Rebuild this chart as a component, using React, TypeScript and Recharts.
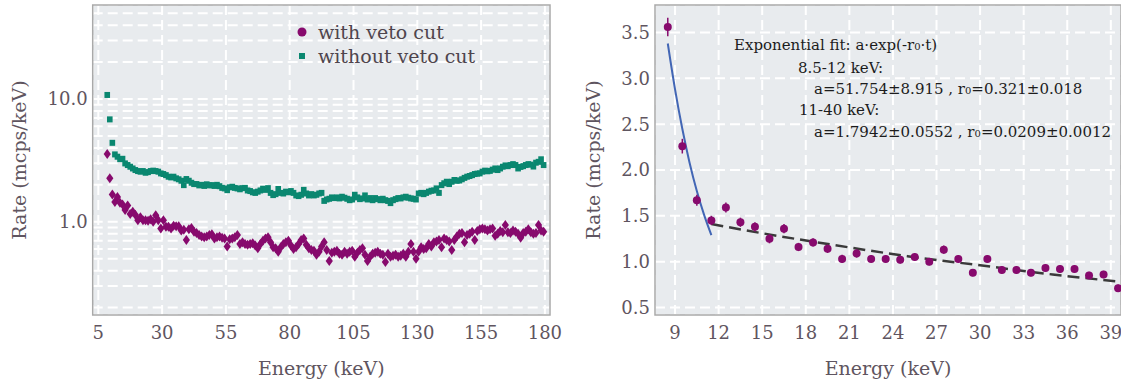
import {
  ComposedChart,
  ScatterChart,
  Scatter,
  Line,
  XAxis,
  YAxis,
  CartesianGrid,
  ErrorBar,
  ReferenceArea,
  Legend,
  Label,
} from "recharts";

const FONT = "'DejaVu Serif', serif";
const INK = "#5f5560";
const PURPLE = "#870a6d";
const TEAL = "#0a8770";
const BLUE = "#4266b5";
const DASH = "#3a3a3a";
const PANEL_BG = "#e8ebee";
const FRAME = "#a9a9a9";

// left panel: 1 keV bins, first bin centred at 8.5 keV
const BIN_START = 8.5;
const BIN_WIDTH = 1;

const withVeto = [
  // 8.5 - 39.5
  3.56, 2.26, 1.67, 1.45, 1.59, 1.43, 1.38, 1.25, 1.36, 1.16,
  1.21, 1.14, 1.03, 1.09, 1.03, 1.03, 1.02, 1.05, 1.0, 1.13,
  1.03, 0.88, 1.03, 0.91, 0.91, 0.88, 0.93, 0.92, 0.92, 0.85,
  0.86, 0.71,
  // 40.5 - 62.5
  0.87, 0.89, 0.83, 0.81, 0.78, 0.76, 0.75, 0.76, 0.78, 0.79,
  0.73, 0.75, 0.76, 0.74, 0.73, 0.63, 0.72, 0.73, 0.75, 0.78,
  0.66, 0.68, 0.66,
  // 63.5 - 122.5
  0.65, 0.66, 0.67, 0.64, 0.61, 0.66, 0.7, 0.73, 0.75, 0.68,
  0.62, 0.61, 0.57, 0.62, 0.66, 0.68, 0.7, 0.64, 0.6, 0.62,
  0.66, 0.71, 0.73, 0.65, 0.61, 0.59, 0.58, 0.54, 0.57, 0.63,
  0.68, 0.59, 0.48, 0.56, 0.57, 0.58, 0.55, 0.54, 0.57, 0.55,
  0.57, 0.58, 0.52, 0.56, 0.59, 0.61, 0.54, 0.48, 0.52, 0.55,
  0.56, 0.57, 0.55, 0.54, 0.47, 0.55, 0.52, 0.53, 0.54, 0.52,
  // 123.5 - 179.5
  0.53, 0.55, 0.52, 0.57, 0.66, 0.57, 0.5, 0.57, 0.62, 0.6,
  0.61, 0.66, 0.63, 0.68, 0.69, 0.71, 0.62, 0.73, 0.71, 0.69,
  0.59, 0.71, 0.76, 0.8, 0.81, 0.68, 0.78, 0.8, 0.83, 0.71,
  0.84, 0.87, 0.88, 0.87, 0.85, 0.87, 0.88, 0.77, 0.8, 0.84,
  0.82, 0.94, 0.82, 0.81, 0.85, 0.83, 0.8, 0.74, 0.81, 0.83,
  0.87, 0.82, 0.8, 0.81, 0.94, 0.85, 0.83,
];

const withoutVeto = [
  // 8.5 - 62.5
  10.8, 6.83, 4.4, 3.54, 3.39, 3.24, 3.26, 2.99, 2.9, 2.81,
  2.72, 2.64, 2.59, 2.56, 2.59, 2.51, 2.54, 2.59, 2.61, 2.59,
  2.56, 2.48, 2.45, 2.4, 2.33, 2.3, 2.33, 2.26, 2.22, 2.16,
  1.99, 2.23, 2.16, 2.08, 2.03, 2.03, 1.98, 2.0, 1.96, 2.02,
  1.98, 1.99, 1.96, 2.0, 1.95, 1.89, 1.87, 1.81, 1.91, 1.93,
  1.89, 1.87, 1.84, 1.88, 1.89,
  // 63.5 - 122.5
  1.8, 1.78, 1.74, 1.72, 1.76, 1.8, 1.86, 1.82, 1.88, 1.72,
  1.65, 1.68, 1.85, 1.72, 1.7, 1.76, 1.74, 1.78, 1.72, 1.64,
  1.62, 1.66, 1.82, 1.7, 1.64, 1.68, 1.64, 1.66, 1.7, 1.72,
  1.48, 1.52, 1.54, 1.58, 1.56, 1.58, 1.55, 1.6, 1.57, 1.54,
  1.5, 1.52, 1.66, 1.58, 1.53, 1.55, 1.64, 1.52, 1.56, 1.5,
  1.56, 1.53, 1.5, 1.54, 1.5, 1.48, 1.42, 1.5, 1.53, 1.56,
  // 123.5 - 179.5
  1.55, 1.58, 1.6, 1.57, 1.55, 1.54, 1.52, 1.7, 1.72, 1.68,
  1.72, 1.76, 1.79, 1.8, 1.87, 1.72, 1.99, 2.06, 2.12, 2.03,
  2.12, 2.19, 2.16, 2.17, 2.22, 2.28, 2.33, 2.36, 2.4, 2.45,
  2.47, 2.48, 2.56, 2.61, 2.58, 2.6, 2.66, 2.72, 2.64, 2.72,
  2.81, 2.88, 2.84, 2.9, 2.95, 2.9, 2.72, 2.8, 2.84, 2.9,
  2.95, 2.92, 2.82, 3.03, 3.08, 3.23, 2.9,
];

const leftTicks = [5, 30, 55, 80, 105, 130, 155, 180];
const logGrid = [
  0.2, 0.3, 0.4, 0.5, 0.6, 0.7, 0.8, 0.9,
  1, 2, 3, 4, 5, 6, 7, 8, 9,
  10, 20, 30, 40, 50,
];
const logLabels = [1, 10];

// right panel: zoom on 8.5 - 39.5 keV of the "with veto cut" spectrum
const rightEnergy = [
  8.5, 9.5, 10.5, 11.5, 12.5, 13.5, 14.5, 15.5, 16.5, 17.5, 18.5, 19.5,
  20.5, 21.5, 22.5, 23.5, 24.5, 25.5, 26.5, 27.5, 28.5, 29.5, 30.5, 31.5,
  32.5, 33.5, 34.5, 35.5, 36.5, 37.5, 38.5, 39.5,
];
const rightRate = withVeto.slice(0, rightEnergy.length);
const rightErr = [
  0.1, 0.08, 0.06, 0.05, 0.055, 0.05, 0.05, 0.05, 0.05, 0.045, 0.045, 0.045,
  0.045, 0.045, 0.04, 0.04, 0.04, 0.04, 0.04, 0.045, 0.04, 0.04, 0.04, 0.04,
  0.04, 0.04, 0.04, 0.04, 0.04, 0.04, 0.04, 0.04,
];

const fitShortEnergy = [8.5, 9, 9.5, 10, 10.5, 11, 11.5];
const fitShortRate = [3.38, 2.88, 2.45, 2.08, 1.77, 1.51, 1.29];
const fitLongEnergy = [11.5, 15, 20, 25, 30, 35, 39.7];
const fitLongRate = [1.41, 1.31, 1.18, 1.06, 0.96, 0.86, 0.78];

const rightTicksX = [9, 12, 15, 18, 21, 24, 27, 30, 33, 36, 39];
const rightTicksY = [0.5, 1.0, 1.5, 2.0, 2.5, 3.0, 3.5];

const leftX: [number, number] = [2.8, 182];
const leftY: [number, number] = [0.174, 58.4];
const rightX: [number, number] = [7.62, 39.7];
const rightY: [number, number] = [0.418, 3.8];

const leftWith = withVeto.map((y, i) => ({ x: BIN_START + i * BIN_WIDTH, y }));
const leftWithout = withoutVeto.map((y, i) => ({ x: BIN_START + i * BIN_WIDTH, y }));
const rightPoints = rightEnergy.map((x, i) => ({ x, y: rightRate[i], err: rightErr[i] }));
const shortFit = fitShortEnergy.map((x, i) => ({ x, y: fitShortRate[i] }));
const longFit = fitLongEnergy.map((x, i) => ({ x, y: fitLongRate[i] }));

const tickStyle = { fill: INK, fontSize: 18, fontFamily: FONT };

const Diamond = (p: any) => (
  <path
    d={`M${p.cx},${p.cy - 5}L${p.cx + 3.6},${p.cy}L${p.cx},${p.cy + 5}L${p.cx - 3.6},${p.cy}Z`}
    fill={PURPLE}
  />
);
const Square = (p: any) => (
  <rect x={p.cx - 2.8} y={p.cy - 3} width={5.6} height={6} fill={TEAL} />
);
const Dot = (p: any) => <circle cx={p.cx} cy={p.cy} r={4} fill={PURPLE} />;

function VetoLegend() {
  return (
    <svg width={220} height={52} style={{ display: "block" }}>
      <circle cx={9} cy={12} r={4.5} fill={PURPLE} />
      <text x={25} y={12} dy="0.35em" fill="#4f454d" fontSize={19} fontFamily={FONT}>
        with veto cut
      </text>
      <rect x={6} y={33} width={6} height={6} fill={TEAL} />
      <text x={25} y={36} dy="0.35em" fill="#4f454d" fontSize={19} fontFamily={FONT}>
        without veto cut
      </text>
    </svg>
  );
}

const R0 = () => (
  <>
    r<tspan fontSize={10}>0</tspan>
  </>
);

function FitNote() {
  const t = { fill: "#1c1c1c", fontSize: 15, fontFamily: FONT };
  return (
    <svg
      width={1121}
      height={385}
      style={{ position: "absolute", left: 0, top: 0, pointerEvents: "none" }}
    >
      <text x={734} y={45} dy="0.35em" {...t}>
        Exponential fit: a·exp(-<R0 />·t)
      </text>
      <text x={798} y={68} dy="0.35em" {...t}>8.5-12 keV:</text>
      <text x={814} y={89} dy="0.35em" {...t}>
        a=51.754±8.915 , <R0 />=0.321±0.018
      </text>
      <text x={799} y={110} dy="0.35em" {...t}>11-40 keV:</text>
      <text x={814} y={132} dy="0.35em" {...t}>
        a=1.7942±0.0552 , <R0 />=0.0209±0.0012
      </text>
    </svg>
  );
}

export default function App() {
  return (
    <div style={{ position: "absolute", left: 0, top: 0, width: 1121, height: 385, background: "#fff" }}>
      <div style={{ position: "absolute", left: 0, top: 0 }}>
        <ScatterChart width={580} height={385} margin={{ top: 5, right: 30, bottom: 0, left: 0 }}>
          <CartesianGrid fill={PANEL_BG} stroke="#fff" strokeWidth={2} strokeDasharray="10 5" />
          <XAxis
            type="number"
            dataKey="x"
            domain={leftX}
            allowDataOverflow
            ticks={leftTicks}
            interval={0}
            height={70}
            tickSize={0}
            tickMargin={11.5}
            axisLine={false}
            tick={tickStyle}
          >
            <Label value="Energy (keV)" position="insideBottom" offset={10} fill={INK} fontSize={19} fontFamily={FONT} />
          </XAxis>
          <YAxis
            type="number"
            dataKey="y"
            scale="log"
            domain={leftY}
            allowDataOverflow
            ticks={logGrid}
            interval={0}
            width={92.7}
            tickSize={0}
            tickMargin={5}
            axisLine={false}
            tick={tickStyle}
            tickFormatter={(v: number) => (logLabels.includes(v) ? v.toFixed(1) : "")}
          >
            <Label
              value="Rate (mcps/keV)"
              angle={-90}
              position="insideLeft"
              offset={19}
              fill={INK}
              fontSize={19}
              fontFamily={FONT}
              style={{ textAnchor: "middle" }}
            />
          </YAxis>
          <ReferenceArea
            x1={leftX[0]}
            x2={leftX[1]}
            y1={leftY[0]}
            y2={leftY[1]}
            fill="none"
            stroke={FRAME}
            strokeWidth={1.5}
            ifOverflow="visible"
          />
          <Scatter data={leftWithout} fill={TEAL} shape={Square} isAnimationActive={false} />
          <Scatter data={leftWith} fill={PURPLE} shape={Diamond} isAnimationActive={false} />
          <Legend
            layout="vertical"
            align="center"
            verticalAlign="middle"
            wrapperStyle={{ left: 293, top: 20, width: 220, height: 52 }}
            content={() => <VetoLegend />}
          />
        </ScatterChart>
      </div>

      <div style={{ position: "absolute", left: 560, top: 0 }}>
        <ComposedChart width={561} height={385} margin={{ top: 5, right: 0, bottom: 0, left: 0 }}>
          <CartesianGrid fill={PANEL_BG} stroke="#fff" strokeWidth={2} strokeDasharray="10 5" />
          <XAxis
            type="number"
            dataKey="x"
            domain={rightX}
            allowDataOverflow
            ticks={rightTicksX}
            interval={0}
            height={70}
            tickSize={0}
            tickMargin={11.5}
            axisLine={false}
            tick={tickStyle}
          >
            <Label value="Energy (keV)" position="insideBottom" offset={10} fill={INK} fontSize={19} fontFamily={FONT} />
          </XAxis>
          <YAxis
            type="number"
            dataKey="y"
            domain={rightY}
            allowDataOverflow
            ticks={rightTicksY}
            interval={0}
            width={95}
            tickSize={0}
            tickMargin={5}
            axisLine={false}
            tick={tickStyle}
            tickFormatter={(v: number) => v.toFixed(1)}
          >
            <Label
              value="Rate (mcps/keV)"
              angle={-90}
              position="insideLeft"
              offset={33}
              fill={INK}
              fontSize={19}
              fontFamily={FONT}
              style={{ textAnchor: "middle" }}
            />
          </YAxis>
          <ReferenceArea
            x1={rightX[0]}
            x2={rightX[1]}
            y1={rightY[0]}
            y2={rightY[1]}
            fill="none"
            stroke={FRAME}
            strokeWidth={1.5}
            ifOverflow="visible"
          />
          <Line
            data={shortFit}
            dataKey="y"
            type="monotone"
            stroke={BLUE}
            strokeWidth={2}
            dot={false}
            activeDot={false}
            isAnimationActive={false}
          />
          <Line
            data={longFit}
            dataKey="y"
            type="monotone"
            stroke={DASH}
            strokeWidth={2.5}
            strokeDasharray="12 6"
            dot={false}
            activeDot={false}
            isAnimationActive={false}
          />
          <Scatter data={rightPoints} dataKey="y" fill={PURPLE} shape={Dot} isAnimationActive={false}>
            <ErrorBar dataKey="err" direction="y" width={0} stroke={PURPLE} strokeWidth={1.5} />
          </Scatter>
        </ComposedChart>
      </div>

      <FitNote />
    </div>
  );
}
